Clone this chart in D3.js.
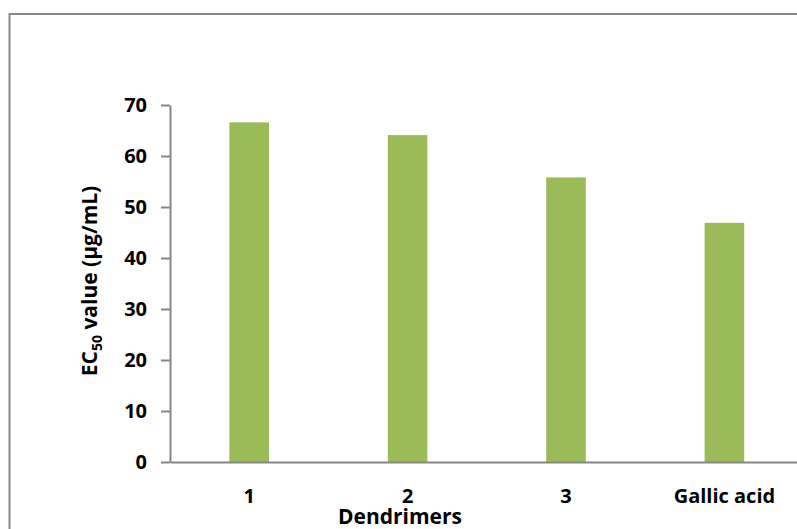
<!DOCTYPE html>
<html><head><meta charset="utf-8">
<script src="https://cdn.jsdelivr.net/npm/d3@7"></script>
<style>body{margin:0;background:#fff}svg{display:block}text{font-family:"Open Sans",sans-serif;font-weight:bold;fill:#000}</style>
</head><body><svg id="c" width="797" height="529"></svg>
<script>
const categories = ["1", "2", "3", "Gallic acid"];
const values = [66.6, 64.1, 55.8, 46.9];
const yTicks = [0, 10, 20, 30, 40, 50, 60, 70];
const xTitle = "Dendrimers";

(function () {
const svg = d3.select("#c");
const mLeft = 170, mRight = 803.6, mTop = 105, mBottom = 462;

svg.append("rect").attr("x", 9.5).attr("y", 14).attr("width", 800).attr("height", 530)
  .attr("fill", "none").attr("stroke", "#8a8a8a").attr("stroke-width", 2);

const x = d3.scaleBand().domain(categories).range([mLeft, mRight]).paddingInner(0.75).paddingOuter(0.375);
const y = d3.scaleLinear().domain([0, 70]).range([mBottom, mTop]);

svg.selectAll("rect.bar").data(values).enter().append("rect").attr("class", "bar")
  .attr("x", (d, i) => x(categories[i])).attr("width", x.bandwidth())
  .attr("y", d => y(d)).attr("height", d => y(0) - y(d)).attr("fill", "#9BBB59");

const ya = svg.append("g").attr("transform", `translate(${mLeft},0)`)
  .call(d3.axisLeft(y).tickValues(yTicks).tickSize(9).tickSizeOuter(0).tickPadding(14));
ya.select(".domain").attr("stroke", "#868686").attr("stroke-width", 2);
ya.selectAll(".tick line").attr("stroke", "#868686").attr("stroke-width", 2);
ya.selectAll(".tick text").attr("font-size", 20).attr("font-family", "'Open Sans',sans-serif").attr("font-weight", "bold").attr("fill", "#000");

const xa = svg.append("g").attr("transform", `translate(0,${mBottom})`)
  .call(d3.axisBottom(x).tickSize(0).tickPadding(0));
xa.select(".domain").attr("stroke", "#868686").attr("stroke-width", 2);
xa.selectAll(".tick text").attr("font-size", 20).attr("font-family", "'Open Sans',sans-serif").attr("font-weight", "bold").attr("fill", "#000")
  .attr("dy", null).attr("y", 41);

svg.append("text").attr("x", 400).attr("y", 524).attr("text-anchor", "middle")
  .attr("font-size", 21).text(xTitle);

const yl = svg.append("text").attr("transform", "translate(97,281) rotate(-90)")
  .attr("text-anchor", "middle").attr("font-size", 21);
yl.append("tspan").text("EC");
yl.append("tspan").attr("font-size", 14).attr("dy", 5).text("50");
yl.append("tspan").attr("dy", -5).text(" value (µg/mL)");
})();
</script></body></html>
